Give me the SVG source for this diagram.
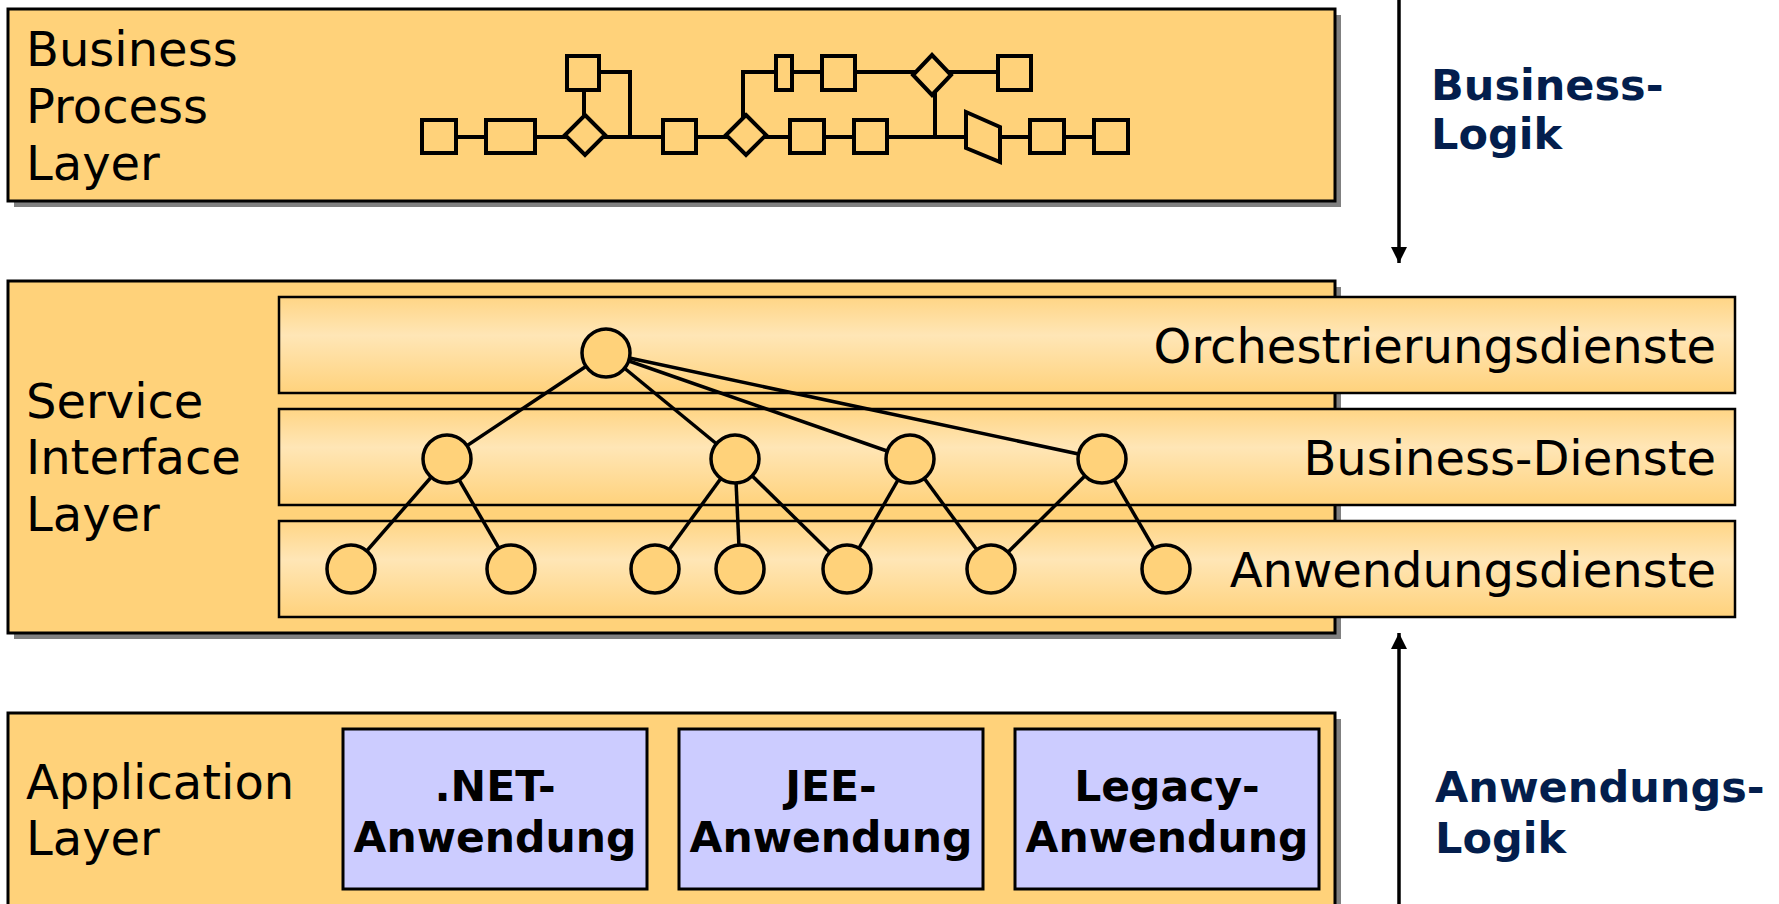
<svg xmlns="http://www.w3.org/2000/svg" width="1779" height="904" viewBox="0 0 1779 904">
  <defs>
    <linearGradient id="rowFill" x1="0" y1="0" x2="0" y2="1">
      <stop offset="0" stop-color="#FFD585"/>
      <stop offset="0.4" stop-color="#FFE6B6"/>
      <stop offset="1" stop-color="#FFD27C"/>
    </linearGradient>
    <marker id="head" markerWidth="16" markerHeight="16" refX="16" refY="8" orient="auto" markerUnits="userSpaceOnUse">
      <path d="M0,0 L16,8 L0,16 Z" fill="#000"/>
    </marker>
  </defs>
  <style>
    .layer { fill: #FFD27A; stroke: #000; stroke-width: 3; }
    .shadow { fill: #808080; }
    .row { fill: url(#rowFill); stroke: #000; stroke-width: 2.5; }
    .app { fill: #CCCCFF; stroke: #000; stroke-width: 3; }
    .shape { fill: #FFD27A; stroke: #000; stroke-width: 4; }
    .flow { fill: none; stroke: #000; stroke-width: 4; }
    .svc { fill: #FFD27A; stroke: #000; stroke-width: 3.5; }
    .edge { stroke: #000; stroke-width: 3.5; }
    .lbl { font-family: "DejaVu Sans", Verdana, sans-serif; font-size: 48px; fill: #000; }
    .bold { font-family: "DejaVu Sans", Verdana, sans-serif; font-size: 42.5px; font-weight: bold; fill: #000; text-anchor: middle; }
    .side { font-family: "DejaVu Sans", Verdana, sans-serif; font-size: 43px; font-weight: bold; fill: #031E4D; }
    .arrow { stroke: #000; stroke-width: 3.5; }
  </style>

  <rect width="1779" height="904" fill="#fff"/>

  <!-- Business process layer -->
  <g id="business-process-layer">
    <rect class="shadow" x="14" y="15" width="1327" height="192"/>
    <rect class="layer" x="8" y="9" width="1327" height="192"/>
    <text class="lbl" x="26" y="66">Business</text>
    <text class="lbl" x="26" y="123">Process</text>
    <text class="lbl" x="26" y="180">Layer</text>
    <g id="process-flow">
      <path class="flow" d="M456,137 H1094 M599,72 H630 V137 M743,137 V72 H998 M935,72 V137 M584,115 V90"/>
      <rect class="shape" x="422" y="120" width="34" height="33"/>
      <rect class="shape" x="486" y="120" width="49" height="33"/>
      <polygon class="shape" points="585,115 605,135 585,155 565,135"/>
      <rect class="shape" x="567" y="56" width="32" height="34"/>
      <rect class="shape" x="663" y="120" width="33" height="33"/>
      <polygon class="shape" points="746,115 766,135 746,155 726,135"/>
      <rect class="shape" x="776" y="56" width="16" height="34"/>
      <rect class="shape" x="822" y="56" width="33" height="34"/>
      <polygon class="shape" points="932,55 951,75 932,95 913,75"/>
      <rect class="shape" x="998" y="56" width="33" height="34"/>
      <rect class="shape" x="790" y="120" width="34" height="33"/>
      <rect class="shape" x="854" y="120" width="33" height="33"/>
      <polygon class="shape" points="966,112 1000,127 1000,162 966,148"/>
      <rect class="shape" x="1030" y="120" width="34" height="33"/>
      <rect class="shape" x="1094" y="120" width="34" height="33"/>
    </g>
  </g>

  <!-- Service interface layer -->
  <g id="service-interface-layer">
    <rect class="shadow" x="14" y="287" width="1327" height="352"/>
    <rect class="layer" x="8" y="281" width="1327" height="352"/>
    <text class="lbl" x="26" y="418">Service</text>
    <text class="lbl" x="26" y="474">Interface</text>
    <text class="lbl" x="26" y="531">Layer</text>
  </g>
  <g id="row-orchestration">
    <rect class="row" x="279" y="297" width="1456" height="96"/>
    <text class="lbl" x="1716" y="363" text-anchor="end">Orchestrierungsdienste</text>
  </g>
  <g id="row-business">
    <rect class="row" x="279" y="409" width="1456" height="96"/>
    <text class="lbl" x="1716" y="475" text-anchor="end">Business-Dienste</text>
  </g>
  <g id="row-application">
    <rect class="row" x="279" y="521" width="1456" height="96"/>
    <text class="lbl" x="1716" y="587" text-anchor="end">Anwendungsdienste</text>
  </g>

  <!-- Service hierarchy links -->
  <g id="connectors">
    <line class="edge" x1="606" y1="353" x2="447" y2="459"/>
    <line class="edge" x1="606" y1="353" x2="735" y2="459"/>
    <line class="edge" x1="606" y1="353" x2="910" y2="459"/>
    <line class="edge" x1="606" y1="353" x2="1102" y2="459"/>
    <line class="edge" x1="447" y1="459" x2="351" y2="569"/>
    <line class="edge" x1="447" y1="459" x2="511" y2="569"/>
    <line class="edge" x1="735" y1="459" x2="655" y2="569"/>
    <line class="edge" x1="735" y1="459" x2="740" y2="569"/>
    <line class="edge" x1="735" y1="459" x2="847" y2="569"/>
    <line class="edge" x1="910" y1="459" x2="847" y2="569"/>
    <line class="edge" x1="910" y1="459" x2="991" y2="569"/>
    <line class="edge" x1="1102" y1="459" x2="991" y2="569"/>
    <line class="edge" x1="1102" y1="459" x2="1166" y2="569"/>
  </g>

  <g id="svc-orchestration"><circle class="svc" cx="606" cy="353" r="24"/></g>
  <g id="svc-business-1"><circle class="svc" cx="447" cy="459" r="24"/></g>
  <g id="svc-business-2"><circle class="svc" cx="735" cy="459" r="24"/></g>
  <g id="svc-business-3"><circle class="svc" cx="910" cy="459" r="24"/></g>
  <g id="svc-business-4"><circle class="svc" cx="1102" cy="459" r="24"/></g>
  <g id="svc-app-1"><circle class="svc" cx="351" cy="569" r="24"/></g>
  <g id="svc-app-2"><circle class="svc" cx="511" cy="569" r="24"/></g>
  <g id="svc-app-3"><circle class="svc" cx="655" cy="569" r="24"/></g>
  <g id="svc-app-4"><circle class="svc" cx="740" cy="569" r="24"/></g>
  <g id="svc-app-5"><circle class="svc" cx="847" cy="569" r="24"/></g>
  <g id="svc-app-6"><circle class="svc" cx="991" cy="569" r="24"/></g>
  <g id="svc-app-7"><circle class="svc" cx="1166" cy="569" r="24"/></g>

  <!-- Application layer -->
  <g id="application-layer">
    <rect class="shadow" x="14" y="719" width="1327" height="200"/>
    <rect class="layer" x="8" y="713" width="1327" height="200"/>
    <text class="lbl" x="26" y="799">Application</text>
    <text class="lbl" x="26" y="855">Layer</text>
  </g>
  <g id="app-dotnet">
    <rect class="app" x="343" y="729" width="304" height="160"/>
    <text class="bold" x="495" y="801">.NET-</text>
    <text class="bold" x="495" y="852">Anwendung</text>
  </g>
  <g id="app-jee">
    <rect class="app" x="679" y="729" width="304" height="160"/>
    <text class="bold" x="831" y="801">JEE-</text>
    <text class="bold" x="831" y="852">Anwendung</text>
  </g>
  <g id="app-legacy">
    <rect class="app" x="1015" y="729" width="304" height="160"/>
    <text class="bold" x="1167" y="801">Legacy-</text>
    <text class="bold" x="1167" y="852">Anwendung</text>
  </g>

  <!-- Direction arrows with side captions -->
  <g id="arrow-business-logic">
    <line class="arrow" x1="1399" y1="0" x2="1399" y2="263" marker-end="url(#head)"/>
    <text class="side" x="1431" y="100">Business-</text>
    <text class="side" x="1431" y="149">Logik</text>
  </g>
  <g id="arrow-application-logic">
    <line class="arrow" x1="1399" y1="904" x2="1399" y2="633" marker-end="url(#head)"/>
    <text class="side" x="1435" y="802">Anwendungs-</text>
    <text class="side" x="1435" y="853">Logik</text>
  </g>
</svg>
